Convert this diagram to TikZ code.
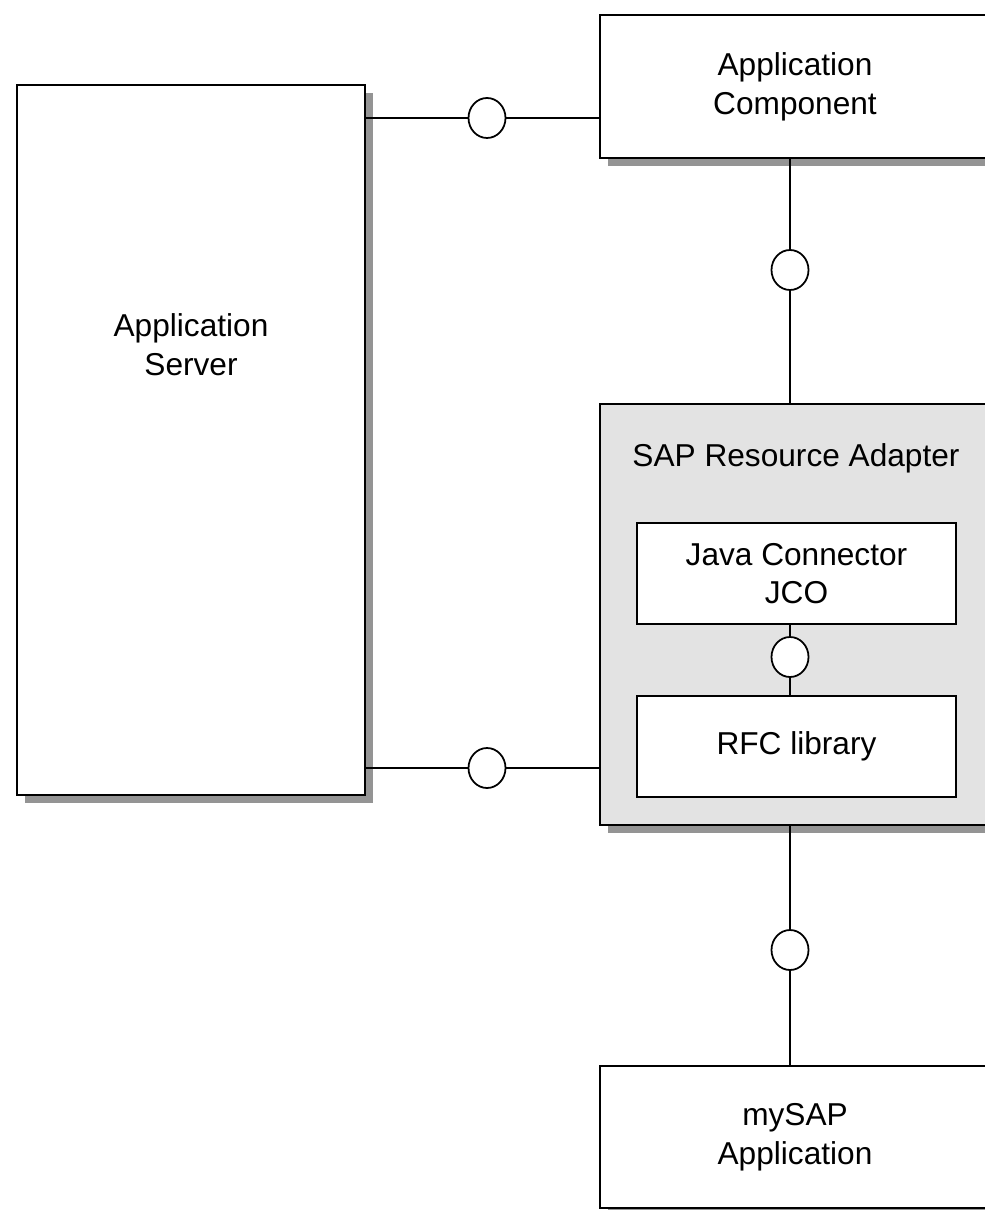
\documentclass[tikz,border=0pt]{standalone}
\usepackage{fontspec}
\setmainfont{Liberation Sans}
\usetikzlibrary{positioning, shapes.geometric, shadows}

\begin{document}
\begin{tikzpicture}[
    font=\fontsize{18}{22}\selectfont,
    component/.style={
      draw,
      line width=1.4pt,
      fill=white,
      align=center,
      inner sep=0pt,
      drop shadow={shadow xshift=0.15cm, shadow yshift=-0.16cm, fill=black!42, opacity=1}
    },
    part/.style={
      draw,
      line width=1.1pt,
      fill=white,
      align=center,
      minimum width=6.38cm,
      minimum height=2.02cm
    },
    iface/.style={
      draw,
      ellipse,
      line width=1pt,
      fill=white,
      minimum width=0.74cm,
      minimum height=0.8cm,
      inner sep=0pt
    },
    link/.style={line width=1pt}
  ]

  \useasboundingbox (0,0) rectangle (19.7,-24.2);
  \clip (0,0) rectangle (19.7,-24.2);

  % ===================== components =====================
  \node[component, minimum width=6.96cm, minimum height=14.2cm] (server) at (3.82,-8.8) {};
  \node[align=center] (servertext) at (3.82,-6.9) {Application\\Server};

  \node[component, minimum width=7.8cm, minimum height=2.86cm] (appcomp) at (15.9,-1.73) {Application\\Component};

  \node[component, fill=black!11, minimum width=7.8cm, minimum height=8.42cm] (adapter) at (15.9,-12.29) {};
  \node (adaptertext) at (15.92,-9.16) {SAP Resource Adapter};

  \node[part] (jco) at (15.93,-11.47) {Java Connector\\JCO};
  \node[part] (rfc) at (15.93,-14.93) {RFC library};

  \node[component, minimum width=7.8cm, minimum height=2.84cm] (mysap) at (15.9,-22.74) {mySAP\\Application};

  % ===================== interfaces =====================
  \coordinate (axis) at (15.8,0);
  \node[iface] (if1) at (9.74,-2.36) {};
  \node[iface] (if2) at (15.8,-5.4) {};
  \node[iface] (if3) at (15.8,-13.14) {};
  \node[iface] (if4) at (9.74,-15.36) {};
  \node[iface] (if5) at (15.8,-19) {};

  % ===================== connectors =====================
  \draw[link] (server.east |- if1) -- (if1) -- (appcomp.west |- if1);
  \draw[link] (appcomp.south -| axis) -- (if2) -- (adapter.north -| axis);
  \draw[link] (jco.south -| axis) -- (if3) -- (rfc.north -| axis);
  \draw[link] (server.east |- if4) -- (if4) -- (adapter.west |- if4);
  \draw[link] (adapter.south -| axis) -- (if5) -- (mysap.north -| axis);

\end{tikzpicture}
\end{document}
